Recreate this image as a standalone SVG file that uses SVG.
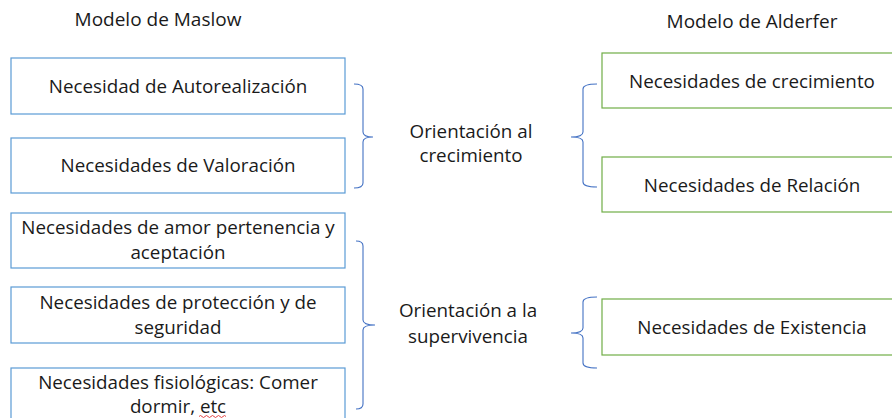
<svg xmlns="http://www.w3.org/2000/svg" width="892" height="418" viewBox="0 0 892 418">
<style>
text{font-family:"Open Sans","Noto Sans","DejaVu Sans",sans-serif;font-size:18.8px;fill:#1a1a1a;text-anchor:middle}
.hdr{font-size:19px}
.mb{fill:#fff;stroke:#5B9BD5;stroke-width:1.2}
.ab{fill:#fff;stroke:#70AD47;stroke-width:1.2}
.br{fill:none;stroke:#4472C4;stroke-width:1.1}
</style>
<rect width="892" height="418" fill="#fff"/>
<text class="hdr" x="158" y="26">Modelo de Maslow</text>
<text class="hdr" x="752" y="28">Modelo de Alderfer</text>

<g id="m1"><rect class="mb" x="11" y="58" width="334" height="56"/><text x="178" y="93">Necesidad de Autorealización</text></g>
<g id="m2"><rect class="mb" x="11" y="138" width="334" height="55"/><text x="178" y="172">Necesidades de Valoración</text></g>
<g id="m3"><rect class="mb" x="11" y="213" width="334" height="55"/><text x="178" y="234">Necesidades de amor pertenencia y</text><text x="178" y="259">aceptación</text></g>
<g id="m4"><rect class="mb" x="11" y="287" width="334" height="56"/><text x="178" y="309">Necesidades de protección y de</text><text x="178" y="334">seguridad</text></g>
<g id="m5"><rect class="mb" x="11" y="368" width="334" height="60"/><text x="178" y="389">Necesidades fisiológicas: Comer</text><text x="178" y="413">dormir, etc</text>
<path d="M199,416.5 q1.5,-2 3,0 t3,0 t3,0 t3,0 t3,0 t3,0 t3,0 t3,0 t3,0" fill="none" stroke="#e03030" stroke-width="0.9"/></g>

<g id="c1"><text x="471" y="138">Orientación al</text><text x="471" y="162">crecimiento</text></g>
<g id="c2"><text x="468" y="317">Orientación a la</text><text x="468" y="343">supervivencia</text></g>

<g id="a1"><rect class="ab" x="602" y="53" width="295" height="55"/><text x="752" y="88">Necesidades de crecimiento</text></g>
<g id="a2"><rect class="ab" x="602" y="157" width="295" height="55"/><text x="752" y="192">Necesidades de Relación</text></g>
<g id="a3"><rect class="ab" x="602" y="299" width="295" height="56"/><text x="752" y="334">Necesidades de Existencia</text></g>

<g id="connectors">
<path class="br" d="M354,84 Q363,84 363,89 V132 Q363,137 373,137 Q363,137 363,142 V183 Q363,188 354,188"/>
<path class="br" d="M356,241 Q363,241 363,246 V320 Q363,325 375,325 Q363,325 363,330 V404 Q363,409 356,409"/>
<path class="br" d="M597,84 Q583,84 583,89 V132 Q583,137 571,137 Q583,137 583,142 V182 Q583,187 597,187"/>
<path class="br" d="M597,297 Q583,297 583,302 V328 Q583,333 571,333 Q583,333 583,338 V363 Q583,368 597,368"/>
</g>
</svg>
